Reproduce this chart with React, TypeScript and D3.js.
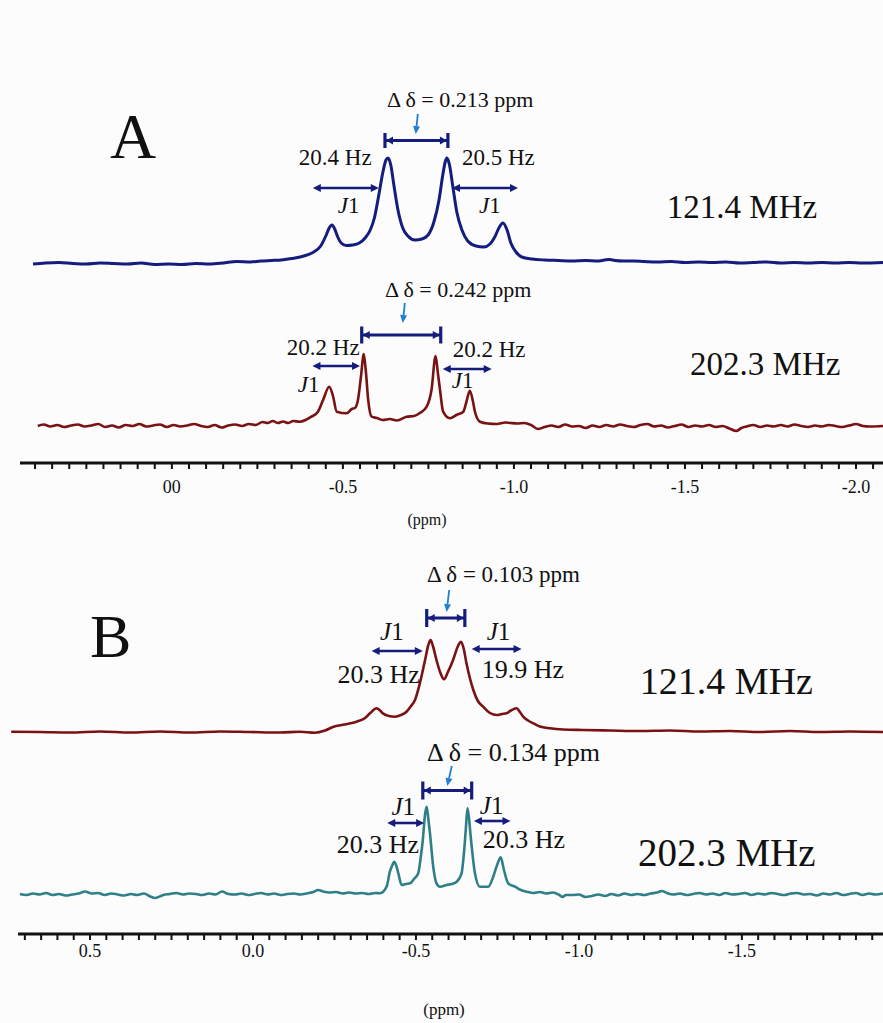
import React from 'react';
import * as d3 from 'd3';

// ---------- colours ----------
const NAVY = '#141c7e';
const DARKRED = '#7a1214';
const TEAL = '#2f7f88';
const ARROWBLUE = '#1f7fd2';
const FONT = '"Liberation Serif", "Times New Roman", serif';

// ---------- axis data ----------
const tickValuesA = [0, -0.5, -1.0, -1.5, -2.0];
const tickLabelsA = ['00', '-0.5', '-1.0', '-1.5', '-2.0'];
const tickValuesB = [0.5, 0.0, -0.5, -1.0, -1.5];
const tickLabelsB = ['0.5', '0.0', '-0.5', '-1.0', '-1.5'];

// ---------- spectra: [ppm, intensity (a.u.)] ----------
const specA121: [number, number][] = [
  [0.406, -1], [0.37, 0], [0.33, 0.5], [0.29, -0.5], [0.25, -1], [0.21, 0], [0.17, -0.5], [0.13, -1],
  [0.09, 0], [0.05, -1.5], [0.01, -1], [-0.03, -1.5], [-0.07, -0.5], [-0.11, -1], [-0.15, 0], [-0.19, 1.5],
  [-0.23, 1], [-0.26, 2], [-0.29, 2.5], [-0.32, 3], [-0.35, 4.5], [-0.375, 6], [-0.395, 8], [-0.415, 11],
  [-0.435, 17], [-0.45, 27], [-0.46, 35], [-0.468, 38], [-0.476, 34], [-0.485, 26], [-0.495, 20],
  [-0.51, 17.5], [-0.528, 18], [-0.548, 20], [-0.565, 25], [-0.58, 33], [-0.592, 45], [-0.605, 68],
  [-0.617, 91], [-0.626, 103], [-0.632, 105], [-0.64, 98], [-0.649, 78], [-0.661, 53], [-0.675, 35],
  [-0.69, 27], [-0.711, 23], [-0.731, 24], [-0.749, 28], [-0.766, 41], [-0.781, 63], [-0.792, 88],
  [-0.799, 101], [-0.804, 105], [-0.811, 99], [-0.822, 75], [-0.833, 51], [-0.848, 33], [-0.865, 22],
  [-0.889, 17], [-0.912, 16], [-0.93, 19], [-0.944, 26], [-0.956, 35], [-0.968, 40], [-0.98, 33],
  [-0.991, 20], [-1.006, 11], [-1.023, 6], [-1.053, 4], [-1.09, 3], [-1.13, 2.5], [-1.17, 2], [-1.21, 2.5],
  [-1.245, 2], [-1.265, 3], [-1.28, 3.5], [-1.295, 2.5], [-1.32, 2], [-1.35, 2], [-1.38, 1.5], [-1.42, 1],
  [-1.46, 1.5], [-1.5, 0.5], [-1.54, 1], [-1.58, 0.5], [-1.62, 1], [-1.66, 0], [-1.7, 0.5], [-1.74, 1],
  [-1.78, 0], [-1.82, 0.5], [-1.86, 0], [-1.9, 0.5], [-1.94, 0], [-1.98, 0.5], [-2.02, 0], [-2.079, 0.5],
];

const specA202: [number, number][] = [
  [0.392, 0], [0.375, 1.5], [0.355, -0.5], [0.335, 1], [0.315, -1], [0.295, 0.5], [0.275, 1.5],
  [0.255, -0.5], [0.235, 0.5], [0.215, 2], [0.195, -1], [0.175, 0.5], [0.155, -1.5], [0.135, 1],
  [0.115, 0], [0.095, 2], [0.075, -0.5], [0.055, 0.5], [0.035, 1.5], [0.015, -1], [-0.005, 1],
  [-0.025, -0.5], [-0.045, 0.5], [-0.065, 2], [-0.085, 0], [-0.105, -1], [-0.125, 1], [-0.145, -1.5],
  [-0.165, 0.5], [-0.185, 1.5], [-0.205, 0], [-0.225, 2], [-0.245, 1], [-0.265, 4], [-0.28, 3],
  [-0.295, 5], [-0.31, 3], [-0.325, 4.5], [-0.34, 3], [-0.355, 5], [-0.374, 4.3], [-0.408, 9.3],
  [-0.427, 14.3], [-0.442, 26], [-0.46, 39.3], [-0.471, 30], [-0.482, 14.3], [-0.511, 12.7],
  [-0.526, 17], [-0.535, 18], [-0.544, 26], [-0.553, 50], [-0.561, 72], [-0.567, 55], [-0.574, 26],
  [-0.584, 9.3], [-0.599, 8], [-0.617, 6], [-0.637, 7], [-0.658, 5.5], [-0.686, 9.3], [-0.708, 10],
  [-0.725, 13], [-0.745, 19.3], [-0.759, 36], [-0.771, 70], [-0.778, 52], [-0.784, 36], [-0.793, 14.3],
  [-0.813, 7.7], [-0.832, 11], [-0.852, 14.3], [-0.861, 24], [-0.871, 35.3], [-0.88, 25], [-0.886, 14.3],
  [-0.901, 4.3], [-0.924, 2.5], [-0.95, 2], [-0.975, 3.5], [-0.99, 3], [-1.01, 2.5], [-1.03, 3],
  [-1.05, 1], [-1.07, -3], [-1.09, -1], [-1.11, 0.5], [-1.13, -1], [-1.15, 1.5], [-1.17, -0.5],
  [-1.19, 0], [-1.21, -2], [-1.23, 0.5], [-1.25, -1], [-1.27, 1], [-1.29, -0.5], [-1.31, 1.5],
  [-1.33, 0], [-1.35, -1], [-1.37, 1], [-1.39, 2], [-1.41, -0.5], [-1.43, 0.5], [-1.45, -1.5],
  [-1.47, 0], [-1.49, 1.5], [-1.51, -1], [-1.53, 0.5], [-1.55, -0.5], [-1.57, 1], [-1.59, -1],
  [-1.61, 0], [-1.63, -2.5], [-1.65, -5], [-1.665, -2], [-1.68, -0.5], [-1.7, 1], [-1.72, -1],
  [-1.74, 0.5], [-1.76, -0.5], [-1.78, 1], [-1.8, -0.5], [-1.82, 1.5], [-1.84, 0], [-1.86, -1],
  [-1.88, 0.5], [-1.9, -0.5], [-1.92, 1], [-1.94, 0], [-1.96, -1], [-1.98, 0.5], [-2.0, 2],
  [-2.02, 0], [-2.04, -0.5], [-2.079, 0],
];

const specB121: [number, number][] = [
  [0.742, 0.3], [0.653, 0], [0.561, -0.5], [0.469, 0.5], [0.377, -0.5], [0.285, 0.5], [0.193, -0.5],
  [0.101, 0.5], [0.009, 0], [-0.083, -0.5], [-0.144, 0.3], [-0.19, -0.7], [-0.221, 1.5], [-0.245, 5],
  [-0.282, 7.5], [-0.318, 10.3], [-0.344, 14], [-0.359, 18.7], [-0.379, 23.7], [-0.39, 21.5],
  [-0.398, 18.7], [-0.417, 16], [-0.436, 15.3], [-0.454, 17], [-0.471, 20.3], [-0.485, 26],
  [-0.497, 32], [-0.512, 48.7], [-0.528, 72], [-0.538, 87], [-0.545, 92], [-0.552, 86], [-0.563, 72],
  [-0.574, 60], [-0.586, 52.7], [-0.598, 60], [-0.614, 72], [-0.629, 86], [-0.638, 90.3], [-0.646, 84],
  [-0.655, 68.7], [-0.676, 42], [-0.69, 31], [-0.706, 25.3], [-0.727, 19], [-0.748, 17], [-0.764, 18],
  [-0.778, 18.7], [-0.791, 21.5], [-0.809, 23.7], [-0.819, 20], [-0.829, 15.3], [-0.844, 11.5],
  [-0.86, 8.7], [-0.88, 5.5], [-0.911, 3.7], [-0.951, 2.5], [-1.012, 2], [-1.095, 1.5], [-1.187, 1],
  [-1.279, 1.5], [-1.371, 0.5], [-1.463, 1], [-1.555, 0], [-1.647, 1], [-1.739, 0], [-1.831, 0.5],
  [-1.933, 0],
];

const specB202: [number, number][] = [
  [0.715, 0], [0.695, -1], [0.675, 0.5], [0.655, -0.5], [0.635, 1], [0.615, -1], [0.595, 0],
  [0.575, -1.5], [0.555, -0.5], [0.535, 0.5], [0.515, 2.5], [0.495, 0.5], [0.475, 1], [0.455, -1],
  [0.435, 0.5], [0.415, -0.5], [0.395, -1.5], [0.375, 0], [0.355, -1], [0.335, 0.5], [0.315, -2.5],
  [0.3, -4], [0.275, -1], [0.255, 0], [0.235, 1], [0.215, -0.5], [0.195, 0.5], [0.175, 0], [0.155, -1],
  [0.135, 0.5], [0.115, -0.5], [0.095, 2.5], [0.075, 0], [0.055, -0.5], [0.035, 0.5], [0.015, -1],
  [-0.005, 0], [-0.025, 1], [-0.045, -0.5], [-0.065, 0.5], [-0.085, -1], [-0.105, 0], [-0.125, 0.5],
  [-0.145, -0.5], [-0.165, 0.5], [-0.185, 2], [-0.2, 4], [-0.215, 2.5], [-0.235, 1.5], [-0.255, 2],
  [-0.275, 0.5], [-0.295, 1.5], [-0.315, 0.5], [-0.335, 1], [-0.355, 0], [-0.375, 1], [-0.39, 0.7],
  [-0.41, 7.3], [-0.42, 22.3], [-0.428, 29], [-0.433, 32.3], [-0.439, 29], [-0.446, 20.7],
  [-0.456, 9], [-0.469, 10], [-0.482, 10.7], [-0.494, 15], [-0.507, 20.7], [-0.514, 35], [-0.521, 54],
  [-0.528, 80], [-0.533, 87.3], [-0.538, 75], [-0.543, 60.7], [-0.553, 27.3], [-0.563, 10.7],
  [-0.574, 7.3], [-0.594, 9], [-0.61, 10], [-0.625, 12.3], [-0.64, 20.7], [-0.647, 40], [-0.653, 65],
  [-0.658, 85.7], [-0.663, 75], [-0.668, 57.3], [-0.681, 20.7], [-0.696, 7.3], [-0.722, 7.3],
  [-0.737, 17.3], [-0.749, 29], [-0.76, 36.7], [-0.77, 24], [-0.783, 10.7], [-0.804, 7.3], [-0.822, 4],
  [-0.84, 2.3], [-0.86, 1], [-0.88, 2], [-0.9, 0.5], [-0.92, 1.5], [-0.94, -1], [-0.95, -3], [-0.96, -1],
  [-0.98, -1], [-1.0, -0.5], [-1.02, -3], [-1.04, -2], [-1.06, -0.5], [-1.08, -2], [-1.1, 0],
  [-1.12, -1.5], [-1.14, 0.5], [-1.16, -1], [-1.18, 0], [-1.2, -1], [-1.22, 0.5], [-1.24, 1.5],
  [-1.255, 3], [-1.27, 1], [-1.29, -0.5], [-1.31, 0.5], [-1.33, -1], [-1.35, 0], [-1.37, 1],
  [-1.39, -0.5], [-1.41, 0.5], [-1.43, -1], [-1.45, 1], [-1.47, -0.5], [-1.49, 0], [-1.51, 1],
  [-1.53, -1], [-1.55, 0.5], [-1.57, -0.5], [-1.59, 1], [-1.61, 0], [-1.63, -1], [-1.65, 0.5],
  [-1.67, 1], [-1.69, -0.5], [-1.71, 0], [-1.73, -1.5], [-1.75, 0.5], [-1.77, -0.5], [-1.79, 1],
  [-1.81, -1], [-1.83, 0], [-1.85, 1], [-1.87, -1], [-1.89, 0.5], [-1.91, -0.5], [-1.933, 0.5],
];

// ---------- scales ----------
const W = 883;
const H = 1023;
const xA = d3.scaleLinear().domain([0.444, -2.079]).range([20, W]);
const xB = d3.scaleLinear().domain([0.721, -1.933]).range([18, W]);
const yA121 = d3.scaleLinear().domain([0, 100]).range([263, 163]);
const yA202 = d3.scaleLinear().domain([0, 100]).range([426, 326]);
const yB121 = d3.scaleLinear().domain([0, 100]).range([732, 632]);
const yB202 = d3.scaleLinear().domain([0, 100]).range([894, 794]);

const mkPath = (data: [number, number][], x: d3.ScaleLinear<number, number>, y: d3.ScaleLinear<number, number>) =>
  d3.line<[number, number]>().x(d => x(d[0])).y(d => y(d[1])).curve(d3.curveMonotoneX)(data) || '';

// ---------- helpers ----------
function DoubleArrow({ x1, x2, y, color = NAVY }: { x1: number; x2: number; y: number; color?: string }) {
  const hl = 8, hw = 4;
  return (
    <g>
      <line x1={x1 + hl - 1} x2={x2 - hl + 1} y1={y} y2={y} stroke={color} strokeWidth={2.6} />
      <polygon points={`${x1},${y} ${x1 + hl},${y - hw} ${x1 + hl},${y + hw}`} fill={color} />
      <polygon points={`${x2},${y} ${x2 - hl},${y - hw} ${x2 - hl},${y + hw}`} fill={color} />
    </g>
  );
}

function Bracket({ x1, x2, y, h }: { x1: number; x2: number; y: number; h: number }) {
  const hl = 7, hw = 4;
  return (
    <g>
      <line x1={x1} x2={x2} y1={y} y2={y} stroke={NAVY} strokeWidth={2.8} />
      <line x1={x1} x2={x1} y1={y - h / 2} y2={y + h / 2} stroke={NAVY} strokeWidth={3.2} />
      <line x1={x2} x2={x2} y1={y - h / 2} y2={y + h / 2} stroke={NAVY} strokeWidth={3.2} />
      <polygon points={`${x1 + 1},${y} ${x1 + 1 + hl},${y - hw} ${x1 + 1 + hl},${y + hw}`} fill={NAVY} />
      <polygon points={`${x2 - 1},${y} ${x2 - 1 - hl},${y - hw} ${x2 - 1 - hl},${y + hw}`} fill={NAVY} />
    </g>
  );
}

function BlueArrow({ x1, y1, x2, y2 }: { x1: number; y1: number; x2: number; y2: number }) {
  const ang = Math.atan2(y2 - y1, x2 - x1);
  const hl = 8, hw = 3.5;
  const bx = x2 - hl * Math.cos(ang), by = y2 - hl * Math.sin(ang);
  const px = -Math.sin(ang) * hw, py = Math.cos(ang) * hw;
  return (
    <g>
      <line x1={x1} y1={y1} x2={bx} y2={by} stroke={ARROWBLUE} strokeWidth={1.8} />
      <polygon points={`${x2},${y2} ${bx + px},${by + py} ${bx - px},${by - py}`} fill={ARROWBLUE} />
    </g>
  );
}

function J1({ x, y, size }: { x: number; y: number; size: number }) {
  return (
    <text x={x} y={y} fontSize={size} fontFamily={FONT} fill="#111">
      <tspan fontStyle="italic">J</tspan>1
    </text>
  );
}

function Label({ x, y, size, children, anchor = 'start' }: any) {
  return (
    <text x={x} y={y} fontSize={size} fontFamily={FONT} fill="#111" textAnchor={anchor}>
      {children}
    </text>
  );
}

function Axis({ x, y, x0, values, labels, labelY, minorFrom, minorTo }: any) {
  const minor = d3.range(Math.round(minorFrom * 100), Math.round(minorTo * 100) - 1, -5).map((v: number) => v / 100);
  return (
    <g>
      <line x1={x0} x2={W} y1={y} y2={y} stroke="#111" strokeWidth={3} />
      {minor.map((v: number, i: number) => (
        <line key={i} x1={x(v)} x2={x(v)} y1={y} y2={y + 6} stroke="#111" strokeWidth={2} />
      ))}
      {values.map((v: number, i: number) => (
        <text key={i} x={x(v)} y={labelY} fontSize={18} fontFamily={FONT} textAnchor="middle" fill="#111">
          {labels[i]}
        </text>
      ))}
    </g>
  );
}

export default function App() {
  return (
    <svg width={W} height={H} style={{ position: 'absolute', left: 0, top: 0, background: '#fcfcfc' }}>
      <rect x={0} y={0} width={W} height={H} fill="#fcfcfc" />

      {/* ================= Panel A ================= */}
      <Label x={xA(0.181)} y={158} size={64}>A</Label>

      <path d={mkPath(specA121, xA, yA121)} fill="none" stroke={NAVY} strokeWidth={3} strokeLinejoin="round" />
      <path d={mkPath(specA202, xA, yA202)} fill="none" stroke={DARKRED} strokeWidth={2.6} strokeLinejoin="round" />

      {/* 121.4 MHz annotations */}
      <Label x={xA(-0.629)} y={107} size={22}>Δ δ = 0.213 ppm</Label>
      <BlueArrow x1={xA(-0.719)} y1={114} x2={xA(-0.713)} y2={134} />
      <Bracket x1={xA(-0.623)} x2={xA(-0.807)} y={140.5} h={15} />
      <Label x={xA(-0.371)} y={165} size={23}>20.4 Hz</Label>
      <Label x={xA(-0.848)} y={165} size={23}>20.5 Hz</Label>
      <DoubleArrow x1={xA(-0.412)} x2={xA(-0.605)} y={188} />
      <DoubleArrow x1={xA(-0.819)} x2={xA(-1.012)} y={188} />
      <J1 x={xA(-0.485)} y={213} size={23} />
      <J1 x={xA(-0.898)} y={213} size={23} />
      <Label x={xA(-1.447)} y={218} size={33}>121.4 MHz</Label>

      {/* 202.3 MHz annotations */}
      <Label x={xA(-0.623)} y={297} size={22}>Δ δ = 0.242 ppm</Label>
      <BlueArrow x1={xA(-0.681)} y1={303} x2={xA(-0.675)} y2={323} />
      <Bracket x1={xA(-0.555)} x2={xA(-0.786)} y={335} h={17} />
      <Label x={xA(-0.336)} y={355} size={23}>20.2 Hz</Label>
      <Label x={xA(-0.821)} y={357} size={23}>20.2 Hz</Label>
      <DoubleArrow x1={xA(-0.411)} x2={xA(-0.55)} y={366} />
      <DoubleArrow x1={xA(-0.792)} x2={xA(-0.935)} y={369} />
      <J1 x={xA(-0.368)} y={392} size={23} />
      <J1 x={xA(-0.818)} y={388} size={23} />
      <Label x={xA(-1.515)} y={375} size={33}>202.3 MHz</Label>

      <Axis x={xA} y={463} x0={20} values={tickValuesA} labels={tickLabelsA} labelY={493} minorFrom={0.4} minorTo={-2.05} />
      <Label x={427} y={525} size={16} anchor="middle">(ppm)</Label>

      {/* ================= Panel B ================= */}
      <Label x={xB(0.5)} y={657} size={62}>B</Label>

      <path d={mkPath(specB121, xB, yB121)} fill="none" stroke={DARKRED} strokeWidth={2.6} strokeLinejoin="round" />
      <path d={mkPath(specB202, xB, yB202)} fill="none" stroke={TEAL} strokeWidth={2.6} strokeLinejoin="round" />

      <Label x={xB(-0.534)} y={582} size={23}>Δ δ = 0.103 ppm</Label>
      <BlueArrow x1={xB(-0.602)} y1={590} x2={xB(-0.594)} y2={612} />
      <Bracket x1={xB(-0.533)} x2={xB(-0.65)} y={618} h={18} />
      <J1 x={xB(-0.39)} y={640} size={25} />
      <J1 x={xB(-0.717)} y={640} size={25} />
      <DoubleArrow x1={xB(-0.364)} x2={xB(-0.521)} y={651} />
      <DoubleArrow x1={xB(-0.671)} x2={xB(-0.824)} y={649} />
      <Label x={xB(-0.259)} y={683} size={26}>20.3 Hz</Label>
      <Label x={xB(-0.702)} y={678} size={26}>19.9 Hz</Label>
      <Label x={xB(-1.187)} y={694} size={38}>121.4 MHz</Label>

      <Label x={xB(-0.534)} y={761} size={26}>Δ δ = 0.134 ppm</Label>
      <BlueArrow x1={xB(-0.61)} y1={766} x2={xB(-0.596)} y2={786} />
      <Bracket x1={xB(-0.521)} x2={xB(-0.671)} y={790.5} h={18} />
      <J1 x={xB(-0.425)} y={815} size={25} />
      <J1 x={xB(-0.696)} y={814} size={25} />
      <DoubleArrow x1={xB(-0.412)} x2={xB(-0.525)} y={823} />
      <DoubleArrow x1={xB(-0.678)} x2={xB(-0.79)} y={821} />
      <Label x={xB(-0.257)} y={853} size={26}>20.3 Hz</Label>
      <Label x={xB(-0.705)} y={848} size={26}>20.3 Hz</Label>
      <Label x={xB(-1.181)} y={866} size={39}>202.3 MHz</Label>

      <Axis x={xB} y={934} x0={18} values={tickValuesB} labels={tickLabelsB} labelY={957} minorFrom={0.7} minorTo={-1.9} />
      <Label x={444} y={1015} size={17} anchor="middle">(ppm)</Label>
    </svg>
  );
}
